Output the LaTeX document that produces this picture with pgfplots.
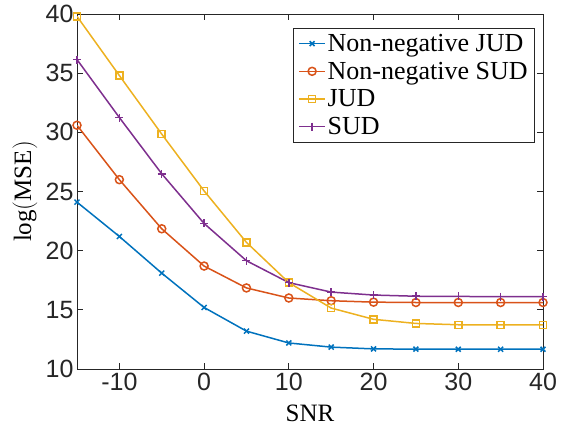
\documentclass[border=0pt]{standalone}
\usepackage{fontspec}
\setmainfont{Liberation Serif}
\newfontfamily\ticksfont{Liberation Sans}
\usepackage{pgfplots}
\pgfplotsset{compat=1.18}

\definecolor{mblue}{rgb}{0,0.447,0.741}
\definecolor{morange}{rgb}{0.85,0.325,0.098}
\definecolor{myellow}{rgb}{0.929,0.694,0.125}
\definecolor{mpurple}{rgb}{0.494,0.184,0.556}
\definecolor{axgray}{rgb}{0.15,0.15,0.15}

\begin{document}
\begin{tikzpicture}
\begin{axis}[
    scale only axis,
    width=466pt, height=355pt,
    xmin=-15, xmax=40,
    ymin=10, ymax=40,
    xtick={-10,0,10,20,30,40},
    ytick={10,15,...,40},
    tick align=inside,
    major tick length=6pt,
    axis line style={axgray, line width=0.8pt},
    tick style={axgray, line width=0.8pt},
    /pgf/number format/assume math mode=true,
    tick label style={font=\fontsize{25}{28}\selectfont\ticksfont, text=axgray},
    xticklabel style={yshift=-1pt},
    xlabel={SNR},
    ylabel={$\log(\mathrm{MSE})$},
    label style={font=\fontsize{25}{28}\selectfont},
    xlabel style={at={(axis description cs:0.5,-0.124)}, anchor=center},
    ylabel style={at={(axis description cs:-0.112,0.5)}, anchor=center},
    legend style={
        at={(0.983,0.961)}, anchor=north east,
        draw=axgray, line width=0.8pt,
        font=\fontsize{26}{28}\selectfont,
        row sep=5pt,
        inner xsep=5pt, inner ysep=4pt
    },
    legend cell align=left,
    legend image code/.code={
        \draw[mark repeat=2, mark phase=2, line width=1.5pt]
            plot coordinates {(0cm,0cm) (0.45cm,0cm) (0.9cm,0cm)};
    },
    every axis plot/.append style={line width=1.5pt},
]

\addplot[mblue, mark=x, mark size=3.5pt] coordinates {
    (-15,24.1) (-10,21.2) (-5,18.1) (0,15.2) (5,13.2) (10,12.2)
    (15,11.85) (20,11.7) (25,11.68) (30,11.67) (35,11.67) (40,11.67)
};
\addlegendentry{Non-negative JUD}

\addplot[morange, mark=o, mark size=4pt] coordinates {
    (-15,30.6) (-10,26.0) (-5,21.85) (0,18.7) (5,16.85) (10,16.0)
    (15,15.77) (20,15.65) (25,15.62) (30,15.62) (35,15.62) (40,15.62)
};
\addlegendentry{Non-negative SUD}

\addplot[myellow, mark=square, mark size=3.5pt] coordinates {
    (-15,39.8) (-10,34.8) (-5,29.85) (0,25.05) (5,20.7) (10,17.3)
    (15,15.15) (20,14.2) (25,13.85) (30,13.74) (35,13.72) (40,13.72)
};
\addlegendentry{JUD}

\addplot[mpurple, mark=+, mark size=4pt] coordinates {
    (-15,36.15) (-10,31.25) (-5,26.5) (0,22.3) (5,19.15) (10,17.3)
    (15,16.5) (20,16.25) (25,16.15) (30,16.13) (35,16.12) (40,16.12)
};
\addlegendentry{SUD}

\end{axis}
\pgfresetboundingbox
\path (current axis.south west) ++(-77pt,-70pt) coordinate (bl);
\path (current axis.north east) ++(24pt,14pt) coordinate (tr);
\useasboundingbox (bl) rectangle (tr);
\end{tikzpicture}
\end{document}
